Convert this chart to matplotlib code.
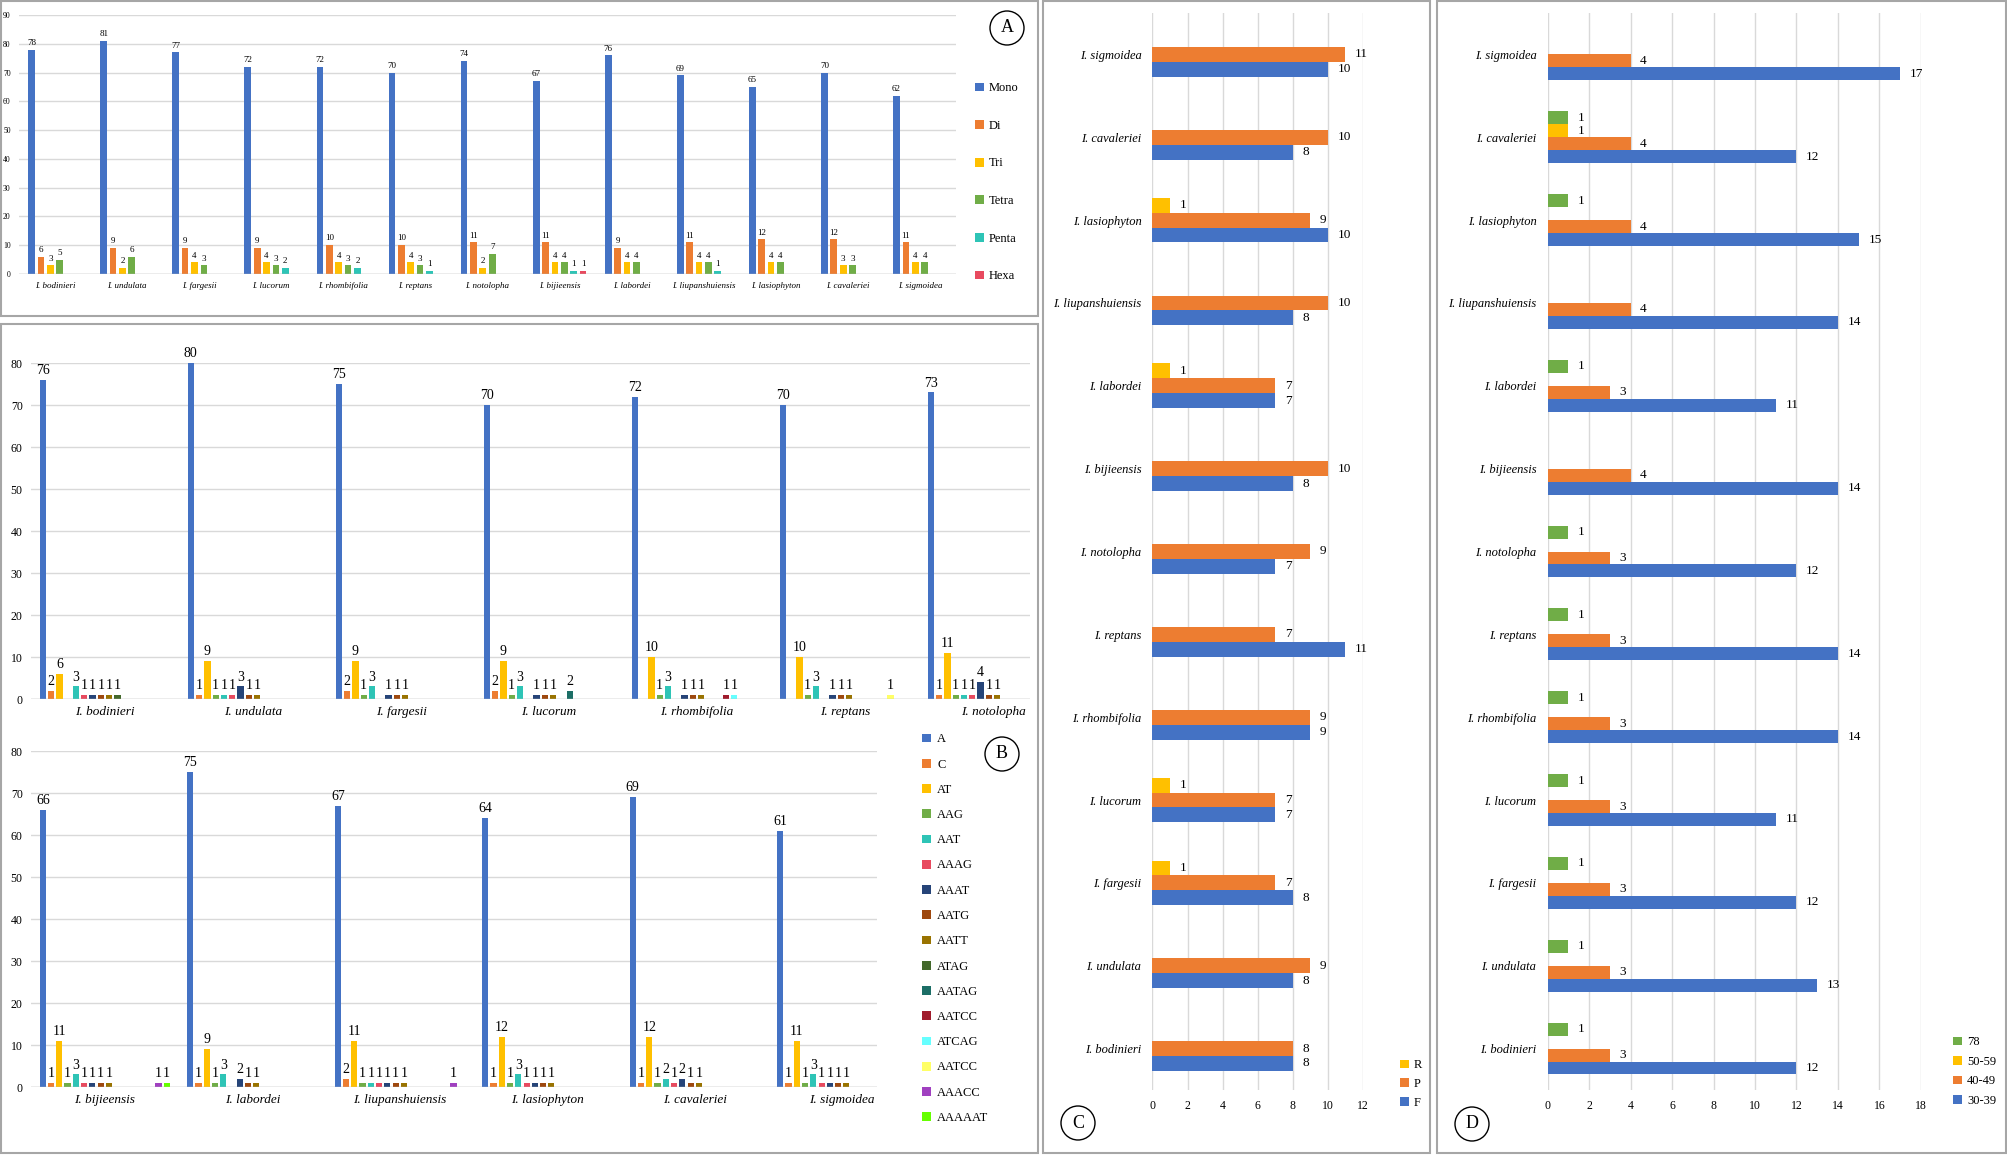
import matplotlib
matplotlib.use('Agg')
import matplotlib.pyplot as plt
import numpy as np
from matplotlib.patches import Rectangle, Ellipse

plt.rcParams['font.family'] = ['Liberation Serif', 'DejaVu Serif']

# species, same order in every panel
species = ['I. bodinieri', 'I. undulata', 'I. fargesii', 'I. lucorum', 'I. rhombifolia',
           'I. reptans', 'I. notolopha', 'I. bijieensis', 'I. labordei',
           'I. liupanshuiensis', 'I. lasiophyton', 'I. cavaleriei', 'I. sigmoidea']

# panel A: SSR types
a_names = ['Mono', 'Di', 'Tri', 'Tetra', 'Penta', 'Hexa']
mono = [78, 81, 77, 72, 72, 70, 74, 67, 76, 69, 65, 70, 62]
di = [6, 9, 9, 9, 10, 10, 11, 11, 9, 11, 12, 12, 11]
tri = [3, 2, 4, 4, 4, 4, 2, 4, 4, 4, 4, 3, 4]
tetra = [5, 6, 3, 3, 3, 3, 7, 4, 4, 4, 4, 3, 4]
penta = [0, 0, 0, 2, 2, 1, 0, 1, 0, 1, 0, 0, 0]
hexa = [0, 0, 0, 0, 0, 0, 0, 1, 0, 0, 0, 0, 0]
a_colors = ['#4472c4', '#ed7d31', '#ffc000', '#70ad47', '#2ec4b6', '#e84a5f']

# panel B: repeat motifs
motifs = ['A', 'C', 'AT', 'AAG', 'AAT', 'AAAG', 'AAAT', 'AATG', 'AATT', 'ATAG',
          'AATAG', 'AATCC', 'ATCAG', 'AATCC', 'AAACC', 'AAAAAT']
motif_colors = ['#4472c4', '#ed7d31', '#ffc000', '#70ad47', '#2ec4b6', '#e84a5f',
                '#264478', '#9e480e', '#997300', '#43682b', '#1c6e66', '#a01b2c',
                '#66ffff', '#ffff66', '#a040c0', '#66ff00']
bod_b = [76, 2, 6, 0, 3, 1, 1, 1, 1, 1, 0, 0, 0, 0, 0, 0]
und_b = [80, 1, 9, 1, 1, 1, 3, 1, 1, 0, 0, 0, 0, 0, 0, 0]
far_b = [75, 2, 9, 1, 3, 0, 1, 1, 1, 0, 0, 0, 0, 0, 0, 0]
luc_b = [70, 2, 9, 1, 3, 0, 1, 1, 1, 0, 2, 0, 0, 0, 0, 0]
rho_b = [72, 0, 10, 1, 3, 0, 1, 1, 1, 0, 0, 1, 1, 0, 0, 0]
rep_b = [70, 0, 10, 1, 3, 0, 1, 1, 1, 0, 0, 0, 0, 1, 0, 0]
not_b = [73, 1, 11, 1, 1, 1, 4, 1, 1, 0, 0, 0, 0, 0, 0, 0]
bij_b = [66, 1, 11, 1, 3, 1, 1, 1, 1, 0, 0, 0, 0, 0, 1, 1]
lab_b = [75, 1, 9, 1, 3, 0, 2, 1, 1, 0, 0, 0, 0, 0, 0, 0]
liu_b = [67, 2, 11, 1, 1, 1, 1, 1, 1, 0, 0, 0, 0, 0, 1, 0]
las_b = [64, 1, 12, 1, 3, 1, 1, 1, 1, 0, 0, 0, 0, 0, 0, 0]
cav_b = [69, 1, 12, 1, 2, 1, 2, 1, 1, 0, 0, 0, 0, 0, 0, 0]
sig_b = [61, 1, 11, 1, 3, 1, 1, 1, 1, 0, 0, 0, 0, 0, 0, 0]

# panel C: F / P / R
c_f = [8, 8, 8, 7, 9, 11, 7, 8, 7, 8, 10, 8, 10]
c_p = [8, 9, 7, 7, 9, 7, 9, 10, 7, 10, 9, 10, 11]
c_r = [0, 0, 1, 1, 0, 0, 0, 0, 1, 0, 1, 0, 0]

# panel D: length classes
d_30 = [12, 13, 12, 11, 14, 14, 12, 14, 11, 14, 15, 12, 17]
d_40 = [3, 3, 3, 3, 3, 3, 3, 4, 3, 4, 4, 4, 4]
d_50 = [0, 0, 0, 0, 0, 0, 0, 0, 0, 0, 0, 1, 0]
d_78 = [1, 1, 1, 1, 1, 1, 1, 0, 1, 0, 1, 1, 0]

W, H = 2008, 1155
fig = plt.figure(figsize=(W / 100, H / 100), dpi=100)
GRID = '#d9d9d9'


def px_axes(x0, y0, x1, y1):
    return fig.add_axes([x0 / W, 1 - y1 / H, (x1 - x0) / W, (y1 - y0) / H])


def clean(ax, grid_axis):
    for s in ax.spines.values():
        s.set_visible(False)
    ax.tick_params(length=0)
    ax.set_axisbelow(True)
    ax.grid(axis=grid_axis, color=GRID, lw=1)


def vbars(ax, rows, colors, slot, width, fs):
    # rows: one list per category
    vals = np.array(rows).T
    x = np.arange(len(rows))
    nser = vals.shape[0]
    bars = []
    for i in range(nser):
        pos = x + (i - (nser - 1) / 2) * slot
        b = ax.bar(pos, vals[i], width=width, color=colors[i], zorder=2)
        bars.append(b)
        for px, v in zip(pos, vals[i]):
            if v > 0:
                ax.annotate(str(v), (px, v), xytext=(0, 2), textcoords='offset points',
                            ha='center', va='bottom', fontsize=fs, annotation_clip=False)
    ax.axhline(0, color='#bfbfbf', lw=1, zorder=3)
    return bars


def hbars(ax, series, colors, h, fs):
    y = np.arange(len(species))
    n = len(series)
    bars = []
    for i, vals in enumerate(series):
        pos = y + (i - (n - 1) / 2) * h
        b = ax.barh(pos, vals, height=h, color=colors[i], zorder=2)
        bars.append(b)
        for py, v in zip(pos, vals):
            if v > 0:
                ax.annotate(str(v), (v, py), xytext=(7, 0), textcoords='offset points',
                            ha='left', va='center', fontsize=fs, annotation_clip=False)
    return bars


def panel_box(x0, y0, x1, y1):
    fig.add_artist(Rectangle((x0 / W, 1 - y1 / H), (x1 - x0) / W, (y1 - y0) / H,
                             transform=fig.transFigure, fill=False,
                             edgecolor='#a6a6a6', lw=1.5))


def panel_tag(cx, cy, letter):
    fig.add_artist(Ellipse((cx / W, 1 - cy / H), 34 / W, 34 / H,
                           transform=fig.transFigure, fill=False,
                           edgecolor='black', lw=1))
    fig.text(cx / W, 1 - cy / H, letter, ha='center', va='center', fontsize=13)


# ---------- panel A ----------
axA = px_axes(19, 15, 956, 274)
barsA = vbars(axA, list(zip(mono, di, tri, tetra, penta, hexa)), a_colors, 0.13, 0.093, 6.5)
clean(axA, 'y')
axA.set_ylim(0, 90)
axA.set_yticks(range(0, 91, 10))
axA.set_xlim(-0.5, 12.5)
axA.set_xticks(range(13))
axA.set_xticklabels(species, fontstyle='italic', fontsize=6.5)
axA.tick_params(axis='y', labelsize=5.5, pad=6)
axA.tick_params(axis='x', pad=6)
fig.legend([b[0] for b in barsA], a_names, loc='upper left',
           bbox_to_anchor=(964 / W, 1 - 71 / H), frameon=False, fontsize=9,
           handlelength=0.7, handleheight=0.7, handletextpad=0.4, labelspacing=2.05)

# ---------- panel B ----------
b_top = [bod_b, und_b, far_b, luc_b, rho_b, rep_b, not_b]
b_bot = [bij_b, lab_b, liu_b, las_b, cav_b, sig_b]
axB1 = px_axes(31, 363, 1030, 699)
barsB = vbars(axB1, b_top, motif_colors, 0.056, 0.042, 10)
axB2 = px_axes(31, 751, 877, 1087)
vbars(axB2, b_bot, motif_colors, 0.056, 0.042, 10)
for ax, names in [(axB1, species[:7]), (axB2, species[7:])]:
    clean(ax, 'y')
    ax.set_ylim(0, 80)
    ax.set_yticks(range(0, 81, 10))
    ax.set_xticks(range(len(names)))
    ax.set_xticklabels(names, fontstyle='italic', fontsize=9.5)
    ax.tick_params(axis='y', labelsize=8.5, pad=6)
    ax.tick_params(axis='x', pad=5)
axB1.set_xlim(-0.5, -0.5 + (1030 - 31) / 148)
axB2.set_xlim(-0.5, -0.5 + (877 - 31) / 147.5)
fig.legend([b[0] for b in barsB], motifs, loc='upper left',
           bbox_to_anchor=(911 / W, 1 - 722 / H), frameon=False, fontsize=9,
           handlelength=0.7, handleheight=0.7, handletextpad=0.5, labelspacing=1.06)

# ---------- panel C ----------
axC = px_axes(1152.5, 13, 1362.6, 1090)
barsC = hbars(axC, [c_f, c_p, c_r], ['#4472c4', '#ed7d31', '#ffc000'], 0.18, 9.5)
clean(axC, 'x')
axC.set_xlim(0, 12)
axC.set_xticks(range(0, 13, 2))
axC.set_ylim(-0.5, 12.5)
axC.set_yticks(range(13))
axC.set_yticklabels(species, fontstyle='italic', fontsize=9)
axC.tick_params(axis='y', pad=8)
axC.tick_params(axis='x', labelsize=8.5, pad=7)
fig.legend([barsC[2][0], barsC[1][0], barsC[0][0]], ['R', 'P', 'F'], loc='upper left',
           bbox_to_anchor=(1389 / W, 1 - 1048 / H), frameon=False, fontsize=9,
           handlelength=0.7, handleheight=0.7, handletextpad=0.4, labelspacing=0.55)

# ---------- panel D ----------
axD = px_axes(1547.5, 13, 1921, 1090)
barsD = hbars(axD, [d_30, d_40, d_50, d_78],
              ['#4472c4', '#ed7d31', '#ffc000', '#70ad47'], 0.156, 9.5)
clean(axD, 'x')
axD.set_xlim(0, 18)
axD.set_xticks(range(0, 19, 2))
axD.set_ylim(-0.5, 12.5)
axD.set_yticks(range(13))
axD.set_yticklabels(species, fontstyle='italic', fontsize=9)
axD.tick_params(axis='y', pad=8)
axD.tick_params(axis='x', labelsize=8.5, pad=7)
fig.legend([barsD[3][0], barsD[2][0], barsD[1][0], barsD[0][0]],
           ['78', '50-59', '40-49', '30-39'], loc='upper left',
           bbox_to_anchor=(1942 / W, 1 - 1025 / H), frameon=False, fontsize=9,
           handlelength=0.7, handleheight=0.7, handletextpad=0.4, labelspacing=0.6)

# frames and panel letters
panel_box(1, 1, 1038, 316)
panel_box(1, 324, 1038, 1153)
panel_box(1043, 1, 1430, 1153)
panel_box(1437, 1, 2006, 1153)
panel_tag(1007, 28, 'A')
panel_tag(1002, 754, 'B')
panel_tag(1078, 1123, 'C')
panel_tag(1472, 1124, 'D')

fig.savefig('out.png', dpi=100)
